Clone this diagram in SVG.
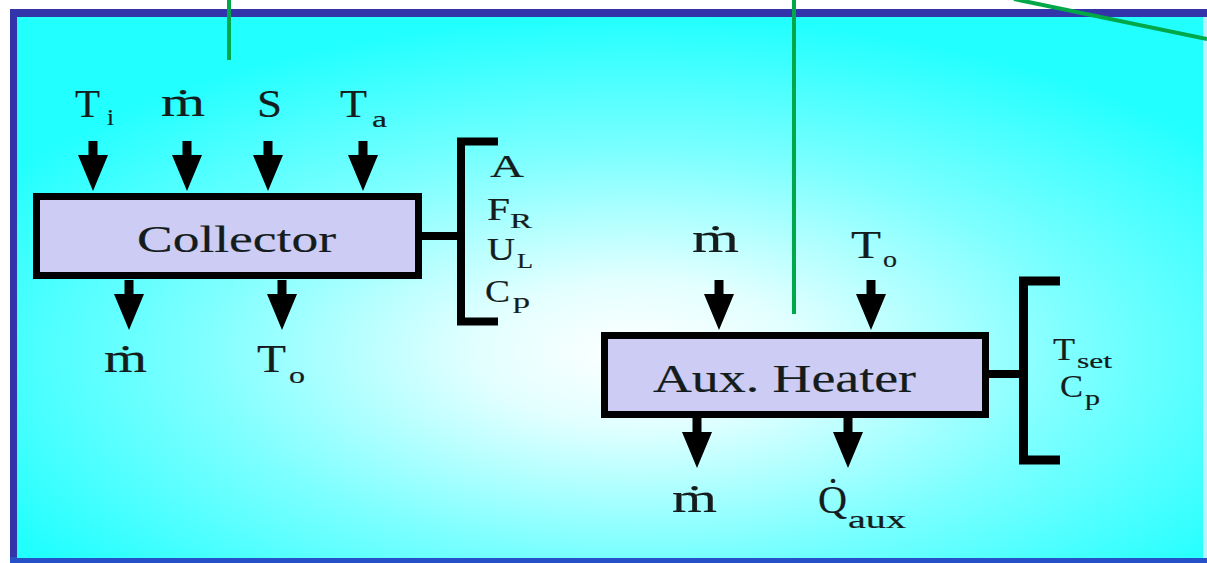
<svg xmlns="http://www.w3.org/2000/svg" width="1207" height="563" viewBox="0 0 1207 563">
<style>
  text { font-family: "Liberation Serif", "DejaVu Serif", serif; fill: #141c1c; stroke: #141c1c; stroke-width: 0.2; }
  .big { font-size: 40px; }
  .mid { font-size: 31px; }
  .sub { font-size: 23px; }
  .ssub { font-size: 21px; }
  .box { fill: #ccccf5; stroke: #000; stroke-width: 7; }
  .brk { fill: none; stroke: #000; stroke-width: 8; stroke-linejoin: miter; stroke-linecap: butt; }
  .green { stroke: #00a84a; stroke-width: 4; fill: none; }
</style>
<defs>
  <radialGradient id="bg" cx="0.52" cy="0.62" r="0.62">
    <stop offset="0" stop-color="#ffffff"/>
    <stop offset="0.22" stop-color="#e2ffff"/>
    <stop offset="0.6" stop-color="#7cffff"/>
    <stop offset="1" stop-color="#22ffff"/>
  </radialGradient>
  <path id="arr" d="M-4.5 0H4.5V14H15L0 50L-15 14H-4.5Z" fill="#000"/>
</defs>

<g id="frame">
  <rect x="0" y="0" width="1207" height="563" fill="#ffffff"/>
  <rect x="10" y="9" width="1200" height="560" fill="#3434aa"/>
  <rect x="10" y="557" width="1200" height="6" fill="#2650c8"/>
  <rect x="17" y="17" width="1190" height="541" fill="url(#bg)"/>
  <rect x="1203" y="17" width="4" height="541" fill="#b8f4ff"/>
</g>

<g id="collector">
  <rect class="box" x="36.5" y="196.5" width="382" height="79"/>
  <text x="137" y="252" style="font-size:37px" textLength="199" lengthAdjust="spacingAndGlyphs">Collector</text>
  <text class="big" x="75" y="117" textLength="25" lengthAdjust="spacingAndGlyphs">T</text>
  <text class="sub" x="107" y="125" textLength="7" lengthAdjust="spacingAndGlyphs">i</text>
  <text class="big" x="161" y="116" textLength="44" lengthAdjust="spacingAndGlyphs">ṁ</text>
  <text class="big" x="257" y="117" textLength="25" lengthAdjust="spacingAndGlyphs">S</text>
  <text class="big" x="340" y="117" textLength="27" lengthAdjust="spacingAndGlyphs">T</text>
  <text class="sub" x="372" y="127" textLength="15" lengthAdjust="spacingAndGlyphs">a</text>
  <text class="big" x="104" y="372" textLength="43" lengthAdjust="spacingAndGlyphs">ṁ</text>
  <text class="big" x="257" y="372" textLength="29" lengthAdjust="spacingAndGlyphs">T</text>
  <text class="sub" x="289" y="383" textLength="16" lengthAdjust="spacingAndGlyphs">o</text>
  <text class="mid" x="490" y="177" textLength="34" lengthAdjust="spacingAndGlyphs">A</text>
  <text class="mid" x="487" y="220" textLength="23" lengthAdjust="spacingAndGlyphs">F</text>
  <text class="ssub" x="510" y="228" textLength="22" lengthAdjust="spacingAndGlyphs">R</text>
  <text class="mid" x="487" y="260" textLength="28" lengthAdjust="spacingAndGlyphs">U</text>
  <text class="ssub" x="517" y="268" textLength="16" lengthAdjust="spacingAndGlyphs">L</text>
  <text class="mid" x="485" y="302" textLength="25" lengthAdjust="spacingAndGlyphs">C</text>
  <text class="ssub" x="513" y="308" textLength="17" lengthAdjust="spacingAndGlyphs">p</text>
</g>

<g id="aux-heater">
  <rect class="box" x="604.5" y="335.5" width="381" height="79"/>
  <text x="653" y="392" style="font-size:39px" textLength="263" lengthAdjust="spacingAndGlyphs">Aux. Heater</text>
  <text class="big" x="692" y="252" textLength="47" lengthAdjust="spacingAndGlyphs">ṁ</text>
  <text class="big" x="851" y="258" textLength="30" lengthAdjust="spacingAndGlyphs">T</text>
  <text class="sub" x="883" y="267" textLength="14" lengthAdjust="spacingAndGlyphs">o</text>
  <text class="mid" x="1053" y="360" textLength="22" lengthAdjust="spacingAndGlyphs">T</text>
  <text class="ssub" x="1077" y="368" textLength="35" lengthAdjust="spacingAndGlyphs">set</text>
  <text class="mid" x="1060" y="397" textLength="23" lengthAdjust="spacingAndGlyphs">C</text>
  <text class="ssub" x="1085" y="405" textLength="15" lengthAdjust="spacingAndGlyphs">p</text>
  <text class="big" x="672" y="512" textLength="45" lengthAdjust="spacingAndGlyphs">ṁ</text>
  <text class="big" x="818" y="513" textLength="29" lengthAdjust="spacingAndGlyphs">Q̇</text>
  <text style="font-size:25px" x="848" y="528" textLength="58" lengthAdjust="spacingAndGlyphs">aux</text>
</g>

<g id="connectors">
  <use href="#arr" transform="translate(93,141)"/>
  <use href="#arr" transform="translate(187,141)"/>
  <use href="#arr" transform="translate(268,141)"/>
  <use href="#arr" transform="translate(363,141)"/>
  <use href="#arr" transform="translate(129,280)"/>
  <use href="#arr" transform="translate(282,280)"/>
  <use href="#arr" transform="translate(719,280)"/>
  <use href="#arr" transform="translate(871,280)"/>
  <use href="#arr" transform="translate(697,418)"/>
  <use href="#arr" transform="translate(848,418)"/>
  <path class="brk" d="M498 141.5H461V321.5H498"/>
  <line x1="422" y1="236" x2="461" y2="236" stroke="#000" stroke-width="8"/>
  <path class="brk" d="M1060 281H1023.5V460H1060" style="stroke-width:9"/>
  <line x1="989" y1="374" x2="1023" y2="374" stroke="#000" stroke-width="8"/>
  <line class="green" x1="229" y1="0" x2="229" y2="60"/>
  <line class="green" x1="794" y1="0" x2="794" y2="314"/>
  <line class="green" x1="1014" y1="-1" x2="1207" y2="39"/>
</g>
</svg>
